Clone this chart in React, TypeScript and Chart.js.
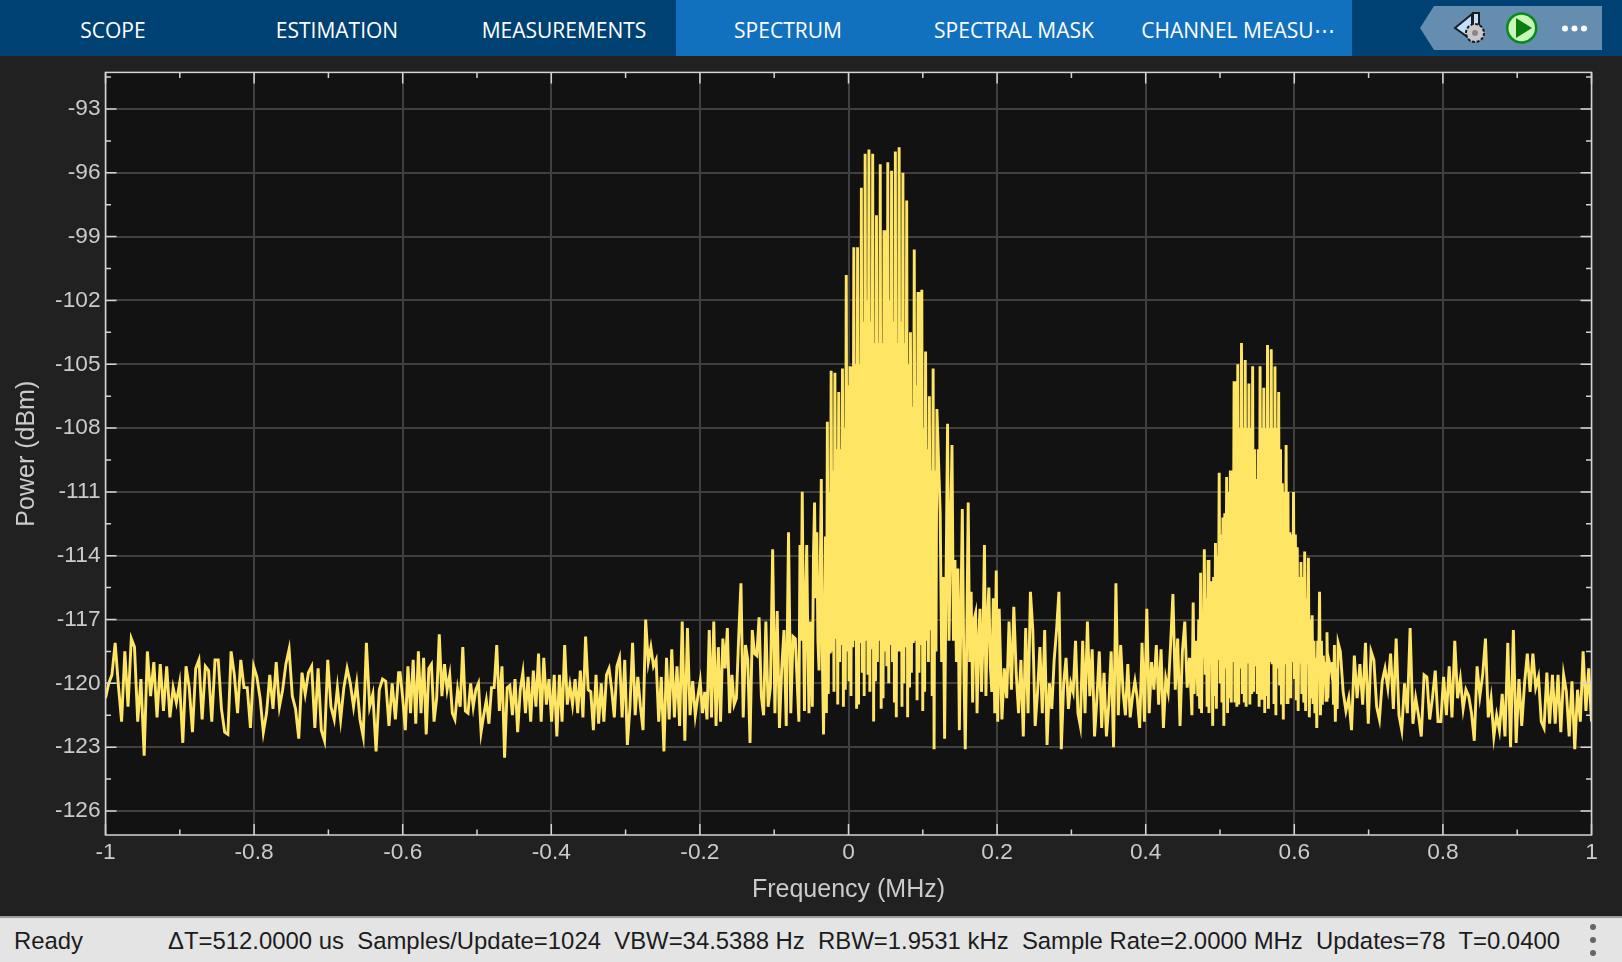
import React, { useEffect, useRef } from "react";
import { Chart, registerables } from "chart.js";

Chart.register(...registerables);

const tabLabels = ["SCOPE", "ESTIMATION", "MEASUREMENTS", "SPECTRUM", "SPECTRAL MASK", "CHANNEL MEASU⋯"];
const statusLeft = "Ready";
const statusRight = "ΔT=512.0000 us  Samples/Update=1024  VBW=34.5388 Hz  RBW=1.9531 kHz  Sample Rate=2.0000 MHz  Updates=78  T=0.0400";
const xAxisTitle = "Frequency (MHz)";
const yAxisTitle = "Power (dBm)";

const xMajorTicks = [-1, -0.8, -0.6, -0.4, -0.2, 0, 0.2, 0.4, 0.6, 0.8, 1];
const xMinorTicks = [-0.9, -0.7, -0.5, -0.3, -0.1, 0.1, 0.3, 0.5, 0.7, 0.9];
const yMajorTicks = [-126, -123, -120, -117, -114, -111, -108, -105, -102, -99, -96, -93];
const yMinorTicks = [-127.5, -124.5, -121.5, -118.5, -115.5, -112.5, -109.5, -106.5, -103.5, -100.5, -97.5, -94.5, -91.5];

const noiseA = [
  -120.7,-120.0,-119.6,-118.1,-120.1,-121.8,-118.5,-121.1,-117.9,-118.3,-121.8,-119.8,-123.4,-118.5,-120.6,-119.0,
  -121.6,-119.1,-121.3,-119.2,-121.6,-120.2,-120.9,-120.0,-122.8,-119.2,-120.2,-122.3,-119.3,-118.9,-121.7,-119.2,
  -119.4,-121.8,-118.9,-118.9,-121.2,-122.3,-122.4,-118.5,-119.6,-121.4,-118.9,-120.2,-120.2,-122.1,-119.2,-119.7,
  -120.7,-122.3,-121.4,-119.6,-121.2,-119.0,-121.1,-120.3,-119.1,-118.4,-120.6,-121.2,-122.6,-119.5,-120.5,-119.5,
  -119.2,-122.1,-119.3,-122.2,-122.7,-118.9,-121.1,-121.7,-120.2,-121.7,-120.2,-119.3,-120.0,-121.1,-120.0,-121.7,
  -122.5,-118.1,-121.1,-120.5,-123.2,-120.3,-119.8,-119.9,-122.0,-120.0,-121.7,-119.5,
];
const noiseB = [
  -119.5,-120.7,-122.2,-119.2,-121.4,-118.9,-121.9,-118.5,-121.4,-118.8,-122.4,-119.3,-119.1,-121.8,-120.7,-117.7,
  -120.6,-119.1,-120.3,-119.6,-121.4,-121.7,-120.3,-121.1,-118.3,-121.3,-121.4,-120.0,-121.1,-120.3,-120.0,-122.3,
  -121.5,-120.8,-121.9,-120.2,-120.2,-118.2,-121.3,-119.2,-123.5,-120.2,-120.1,-121.5,-119.8,-122.3,-120.3,-119.5,
  -121.4,-119.7,-121.8,-119.4,-121.1,-118.6,-121.8,-118.8,-121.0,-119.8,-121.8,-119.6,-122.5,-119.6,-121.8,-118.2,
  -121.0,-120.1,-121.0,-119.8,-121.4,-119.4,-121.6,-117.8,-120.3,-120.4,-122.2,-119.6,-121.9,-120.0,-121.8,-119.6,
  -119.3,-120.3,-121.6,-119.2,-118.8,-121.6,-118.9,-122.9,-121.1,-118.1,-121.5,-119.7,-121.1,-122.2,-117.0,-119.0,
  -118.3,-119.2,-118.9,-121.8,-119.7,-123.2,-118.8,-121.7,-118.4,-121.6,-119.2,-122.0,-117.1,-122.7,-117.4,-121.5,
  -119.9,-121.5,-120.6,
];
const shoulderLeftA = [
  -119.9,-121.4,-120.4,-121.7,-117.5,-121.6,-117.1,-122.0,-118.3,-121.8,-117.9,-119.3,-117.4,-121.4,-119.6,-121.0,
  -120.7,-117.8,-115.3,-121.6,-118.2,-118.9,-122.8,-117.5,-118.6,-118.7,-116.9,-120.6,-121.5,-117.1,-121.1,-120.2,
  -113.7,-121.4,-116.6,-122.1,-119.3,-117.5,-122.0,-112.9,-121.4,-117.8,-117.9,
];
const shoulderLeftB = [
  -121.8,-113.5,-118.0,-111.0,-117.0,-121.3,-116.0,-113.5,-118.0,-121.4,-117.1,-118.0,-121.1,-114.0,-111.5,-116.0,
  -112.9,-118.0,-119.4,-115.0,-110.4,-119.0,-122.4,
];
const mainPeak = [
  -113.1,-121.4,
  -107.7,-120.5,-111,-118.6,-105.3,-118.5,-110,-120.4,-105.4,-117.9,-109,-121.0,-106.3,-119.0,-109,-118.2,
  -105.2,-121.1,-108,-120.3,-100.8,-118.5,-106,-119.9,-105.1,-120.6,-108,-118.3,-99.5,-118.0,-105,-121.2,
  -99.5,-121.0,-105,-118.1,-96.7,-119.5,-103,-120.6,-95.1,-118.0,-102,-119.6,-94.9,-120.4,-103,-118.4,
  -95.1,-121.8,-104,-119.9,-98.0,-119.0,-104,-118.0,-95.6,-121.2,-104,-120.7,-98.7,-118.5,-104,-119.2,
  -95.5,-120.0,-102,-118.2,-95.9,-119.0,-103,-120.9,-95.0,-121.6,-104,-118.5,-94.8,-118.5,-103,-121.1,
  -96.0,-120.0,-104,-118.3,-97.3,-121.6,-105,-120.2,-103.5,-119.5,-107,-118.1,-99.6,-118.0,-106,-120.8,
  -101.6,-119.5,-107,-118.2,-101.5,-121.3,-108,-120.4,-104.4,-118.0,-109,-119.0,-106.5,-117.5,-110,-120.6,
  -105.2,-123.1,-110,-118.5,-107.1,
];
const shoulderRight = [
  -112.0,-119.0,-115.0,-122.6,-115.0,-107.8,-118.0,-113.0,-108.8,-118.0,-114.2,-119.0,-114.6,-122.2,-117.0,-111.8,
  -119.0,-123.1,-118.0,-111.5,-119.0,-115.7,-120.9,-117.0,-116.7,-121.4,-118.0,-116.5,-120.4,-118.0,-113.5,-120.6,
  -117.0,-115.5,-119.2,-120.4,-116.0,-121.4,-114.7,-121.8,-116.5,
];
const noiseMid = [
  -121.7,-119.3,-120.7,-117.1,-120.3,-116.4,-119.5,-121.4,-118.9,-122.5,-117.4,-121.4,-115.7,-117.5,-122.0,-120.4,
  -118.3,-121.4,-117.5,-122.9,-120.0,-121.2,-118.9,-117.5,-115.7,-123.1,-120.0,-118.8,-121.2,-120.0,-120.4,-118.0,
  -121.4,-122.0,-118.0,-121.4,-117.1,-120.6,-118.4,-122.5,-120.7,-118.5,-122.1,-119.5,-122.5,-121.0,-118.5,-123.0,
  -115.3,-121.5,-118.2,-120.4,-121.5,-119.1,-121.6,-120.6,-119.9,-120.7,-122.1,-118.1,-121.8,-116.5,-121.4,-119.0,
  -120.3,-118.2,-121.0,-118.4,-122.1,-119.8,-120.4,-118.2,-115.8,-120.3,-117.9,-122.0,-118.5,-117.1,-120.2,-118.8,
  -121.5,
];
const secondPeak = [
  -116.2,-120.5,-118,-119.0,-119.0,-120.6,-117,-121.2,-114.8,-121.4,-117,-118.8,-113.7,-119.6,-116,-121.1,
  -114.2,-121.4,-116,-119.0,-115.2,-122.0,-115,-120.6,-113.4,-121.2,-114,-118.9,-110.1,-120.0,-113,-120.9,
  -112.2,-122.0,-112,-119.3,-110.3,-121.4,-111,-120.7,-110.0,-120.9,-110,-119.0,-105.8,-120.9,-108,-121.1,
  -105.0,-121.0,-108,-119.3,-104.0,-120.5,-108,-120.9,-104.8,-121.1,-108,-119.0,-105.9,-121.0,-108,-120.5,
  -105.1,-120.4,-109,-119.2,-110.4,-120.5,-109,-121.1,-105.1,-120.7,-108,-119.3,-106.1,-121.4,-108,-120.6,
  -104.1,-121.2,-108,-119.0,-104.3,-119.1,-108,-120.9,-105.1,-121.5,-108,-119.3,-106.3,-120.1,-109,-121.0,
  -110.6,-121.7,-111,-119.1,-108.8,-120.9,-111,-120.6,-112.9,-120.7,-113,-119.0,-111.0,-119.8,-113,-120.8,
  -113.6,-121.3,-115,-119.0,-114.3,-120.5,-115,-120.9,-113.8,-121.3,-116,-119.1,-114.1,-121.6,-117,-120.7,
  -116.8,-120.9,-118,-121.4,-118.8,-122.1,-118,-119.4,-115.7,-121.5,-118,-121.0,-118.7,-119.7,-119,-120.8,
  -117.6,-120.7,-118.9,-119.1,-119.2,-119.5,-119,-121.0,-118.2,-121.8,-119.3,-121.2,-118.1,
];
const noiseRight = [
  -118.5,-120.4,-121.3,-120.7,-122.2,-118.7,-120.7,-119.1,-121.0,-118.1,-121.9,-118.5,-118.9,-121.1,-121.7,-119.9,
  -119.3,-120.2,-118.6,-121.2,-117.9,-121.5,-122.2,-120.0,-121.4,-117.4,-121.9,-120.7,-121.5,-122.5,-119.6,-119.7,
  -121.7,-120.7,-119.4,-121.8,-121.8,-119.7,-121.5,-119.2,-121.6,-118.0,-120.7,-119.8,-121.2,-120.3,-120.6,-121.4,
  -122.7,-119.2,-120.6,-119.6,-117.9,-121.6,-120.7,-122.5,-121.5,-122.2,-120.5,-122.5,-118.1,-123.0,-117.5,-122.8,
  -119.8,-122.0,-120.0,-118.6,-120.4,-118.6,-120.2,-119.7,-121.8,-122.1,-119.5,-121.9,-119.6,-121.9,-119.6,-122.3,
  -119.6,-120.4,-122.5,-119.9,-123.1,-120.3,-121.8,-118.5,-121.3,-119.3,-121.8,
];

// each run of samples with the frequency band (MHz) that it covers
const runs: [number[], number, number][] = [
  [noiseA, -1, -0.6055],
  [noiseB, -0.6035, -0.2027],
  [shoulderLeftA, -0.1996, -0.0716],
  [shoulderLeftB, -0.0668, -0.0336],
  [mainPeak, -0.031, 0.119],
  [shoulderRight, 0.1234, 0.2028],
  [noiseMid, 0.2065, 0.4622],
  [secondPeak, 0.4639, 0.659],
  [noiseRight, 0.662, 1],
];

const COLORS = {
  panel: "#212121",
  plot: "#121212",
  grid: "#404040",
  frame: "#d4d4d4",
  text: "#cbcbcb",
  trace: "#FFE564",
  header: "#004174",
  active: "#1271BF",
  pill: "#648DAF",
  status: "#e4e4e4",
  statusLine: "#9a9a9a",
  statusText: "#1c1c1c",
};

const AXIS_FONT = "'Liberation Sans', Arial, sans-serif";

const framePlugin = {
  id: "frame",
  beforeDraw(chart: any) {
    const { ctx, chartArea: a } = chart;
    ctx.save();
    ctx.fillStyle = COLORS.plot;
    ctx.fillRect(a.left, a.top, a.right - a.left, a.bottom - a.top);
    ctx.restore();
  },
  afterDraw(chart: any) {
    const { ctx, chartArea: a, scales } = chart;
    ctx.save();
    ctx.strokeStyle = COLORS.frame;
    ctx.lineWidth = 1.5;
    ctx.strokeRect(a.left, a.top, a.right - a.left, a.bottom - a.top);
    const drawX = (v: number, len: number) => {
      const x = scales.x.getPixelForValue(v);
      ctx.beginPath();
      ctx.moveTo(x, a.bottom);
      ctx.lineTo(x, a.bottom - len);
      ctx.moveTo(x, a.top);
      ctx.lineTo(x, a.top + len);
      ctx.stroke();
    };
    const drawY = (v: number, len: number) => {
      const y = scales.y.getPixelForValue(v);
      if (y < a.top || y > a.bottom) return;
      ctx.beginPath();
      ctx.moveTo(a.left, y);
      ctx.lineTo(a.left + len, y);
      ctx.moveTo(a.right, y);
      ctx.lineTo(a.right - len, y);
      ctx.stroke();
    };
    xMajorTicks.forEach((v) => drawX(v, 11));
    xMinorTicks.forEach((v) => drawX(v, 5.5));
    yMajorTicks.forEach((v) => drawY(v, 11));
    yMinorTicks.forEach((v) => drawY(v, 5.5));
    ctx.restore();
  },
};

function SpectrumChart() {
  const ref = useRef<HTMLCanvasElement>(null);
  useEffect(() => {
    const points: { x: number; y: number }[] = [];
    runs.forEach(([vals, start, end]) => {
      vals.forEach((y, i) => {
        points.push({ x: start + ((end - start) * i) / (vals.length - 1), y });
      });
    });
    const chart = new Chart(ref.current as HTMLCanvasElement, {
      type: "line",
      data: {
        datasets: [
          {
            data: points,
            borderColor: COLORS.trace,
            borderWidth: 2.9,
            pointRadius: 0,
            tension: 0,
            fill: false,
          },
        ],
      },
      options: {
        animation: false,
        responsive: false,
        devicePixelRatio: 1,
        parsing: false,
        layout: { padding: { top: 16.4, right: 30.5, left: 0, bottom: 0 } },
        plugins: { legend: { display: false }, tooltip: { enabled: false } },
        events: [],
        scales: {
          x: {
            type: "linear",
            min: -1,
            max: 1,
            afterBuildTicks: (s: any) => {
              s.ticks = xMajorTicks.map((value) => ({ value }));
            },
            afterFit: (s: any) => {
              s.height = 81;
            },
            border: { display: false },
            grid: { color: COLORS.grid, lineWidth: 2, drawTicks: false },
            ticks: {
              color: COLORS.text,
              font: { family: AXIS_FONT, size: 22.7 },
              autoSkip: false,
              maxRotation: 0,
              padding: 4,
              callback: (v: any) => String(v),
            },
            title: {
              display: true,
              text: xAxisTitle,
              color: COLORS.text,
              font: { family: AXIS_FONT, size: 25 },
              padding: { top: 0, bottom: 10.4 },
            },
          },
          y: {
            type: "linear",
            min: -127.13,
            max: -91.28,
            afterBuildTicks: (s: any) => {
              s.ticks = yMajorTicks.map((value) => ({ value }));
            },
            afterFit: (s: any) => {
              s.width = 105.5;
              s.paddingTop = 0;
              s.paddingBottom = 0;
            },
            border: { display: false },
            grid: { color: COLORS.grid, lineWidth: 2, drawTicks: false },
            ticks: {
              color: COLORS.text,
              font: { family: AXIS_FONT, size: 22.7 },
              autoSkip: false,
              padding: 5,
              callback: (v: any) => String(v),
            },
            title: {
              display: true,
              text: yAxisTitle,
              color: COLORS.text,
              font: { family: AXIS_FONT, size: 25 },
              padding: { top: 12, bottom: 0 },
            },
          },
        },
      },
      plugins: [framePlugin],
    } as any);
    return () => chart.destroy();
  }, []);
  return <canvas ref={ref} width={1622} height={860} style={{ display: "block", position: "absolute", left: 0, top: 56 }} />;
}

const tabCenters = [113, 337, 564, 788, 1014, 1238];

export default function App() {
  return (
    <div style={{ position: "fixed", left: 0, top: 0, width: 1622, height: 962, background: COLORS.panel, overflow: "hidden" }}>
      <div style={{ position: "absolute", left: 0, top: 0, width: 1622, height: 56, background: COLORS.header }} />
      <div style={{ position: "absolute", left: 676, top: 0, width: 676, height: 56, background: COLORS.active }} />
      {tabLabels.map((t, i) => (
        <div
          key={t}
          style={{
            position: "absolute",
            left: tabCenters[i] - 110,
            width: 220,
            top: 0,
            height: 60,
            lineHeight: "60px",
            textAlign: "center",
            color: "#fff",
            fontFamily: "'Open Sans', sans-serif",
            fontSize: 21,
            whiteSpace: "nowrap",
          }}
        >
          {t}
        </div>
      ))}
      <svg width={1622} height={56} style={{ position: "absolute", left: 0, top: 0 }}>
        <polygon points="1420,28 1434,6 1602,6 1602,50 1434,50" fill={COLORS.pill} />
        <polygon points="1455,28 1472,14 1472,40" fill="#bfe0ff" stroke="#1c1c1c" strokeWidth={2} />
        <rect x={1473} y={13} width={6} height={18} fill="#bfe0ff" stroke="#1c1c1c" strokeWidth={2} />
        <circle cx={1475} cy={33} r={9} fill="#c9c9c9" stroke="#1c1c1c" strokeWidth={2} strokeDasharray="3 1.7" />
        <circle cx={1475} cy={33} r={3} fill="#888" />
        <circle cx={1521.7} cy={28} r={14.5} fill="#c9f7b8" stroke="#0a8a1e" strokeWidth={2.5} />
        <polygon points="1516,18 1516,38 1532,28" fill="#0a7d10" />
        <circle cx={1565} cy={28.5} r={3} fill="#fff" />
        <circle cx={1574.5} cy={28.5} r={3} fill="#fff" />
        <circle cx={1584} cy={28.5} r={3} fill="#fff" />
      </svg>
      <SpectrumChart />
      <div
        style={{
          position: "absolute",
          left: 0,
          top: 916,
          width: 1622,
          height: 46,
          boxSizing: "border-box",
          borderTop: `2px solid ${COLORS.statusLine}`,
          background: COLORS.status,
          color: COLORS.statusText,
          fontFamily: AXIS_FONT,
          fontSize: 23.9,
          lineHeight: "46px",
          whiteSpace: "pre",
        }}
      >
        <span style={{ position: "absolute", left: 14 }}>{statusLeft}</span>
        <span style={{ position: "absolute", right: 62 }}>{statusRight}</span>
        <svg width={12} height={46} style={{ position: "absolute", left: 1587, top: 0 }}>
          <circle cx={6} cy={9} r={3} fill="#666" />
          <circle cx={6} cy={22} r={3} fill="#666" />
          <circle cx={6} cy={35} r={3} fill="#666" />
        </svg>
      </div>
    </div>
  );
}
